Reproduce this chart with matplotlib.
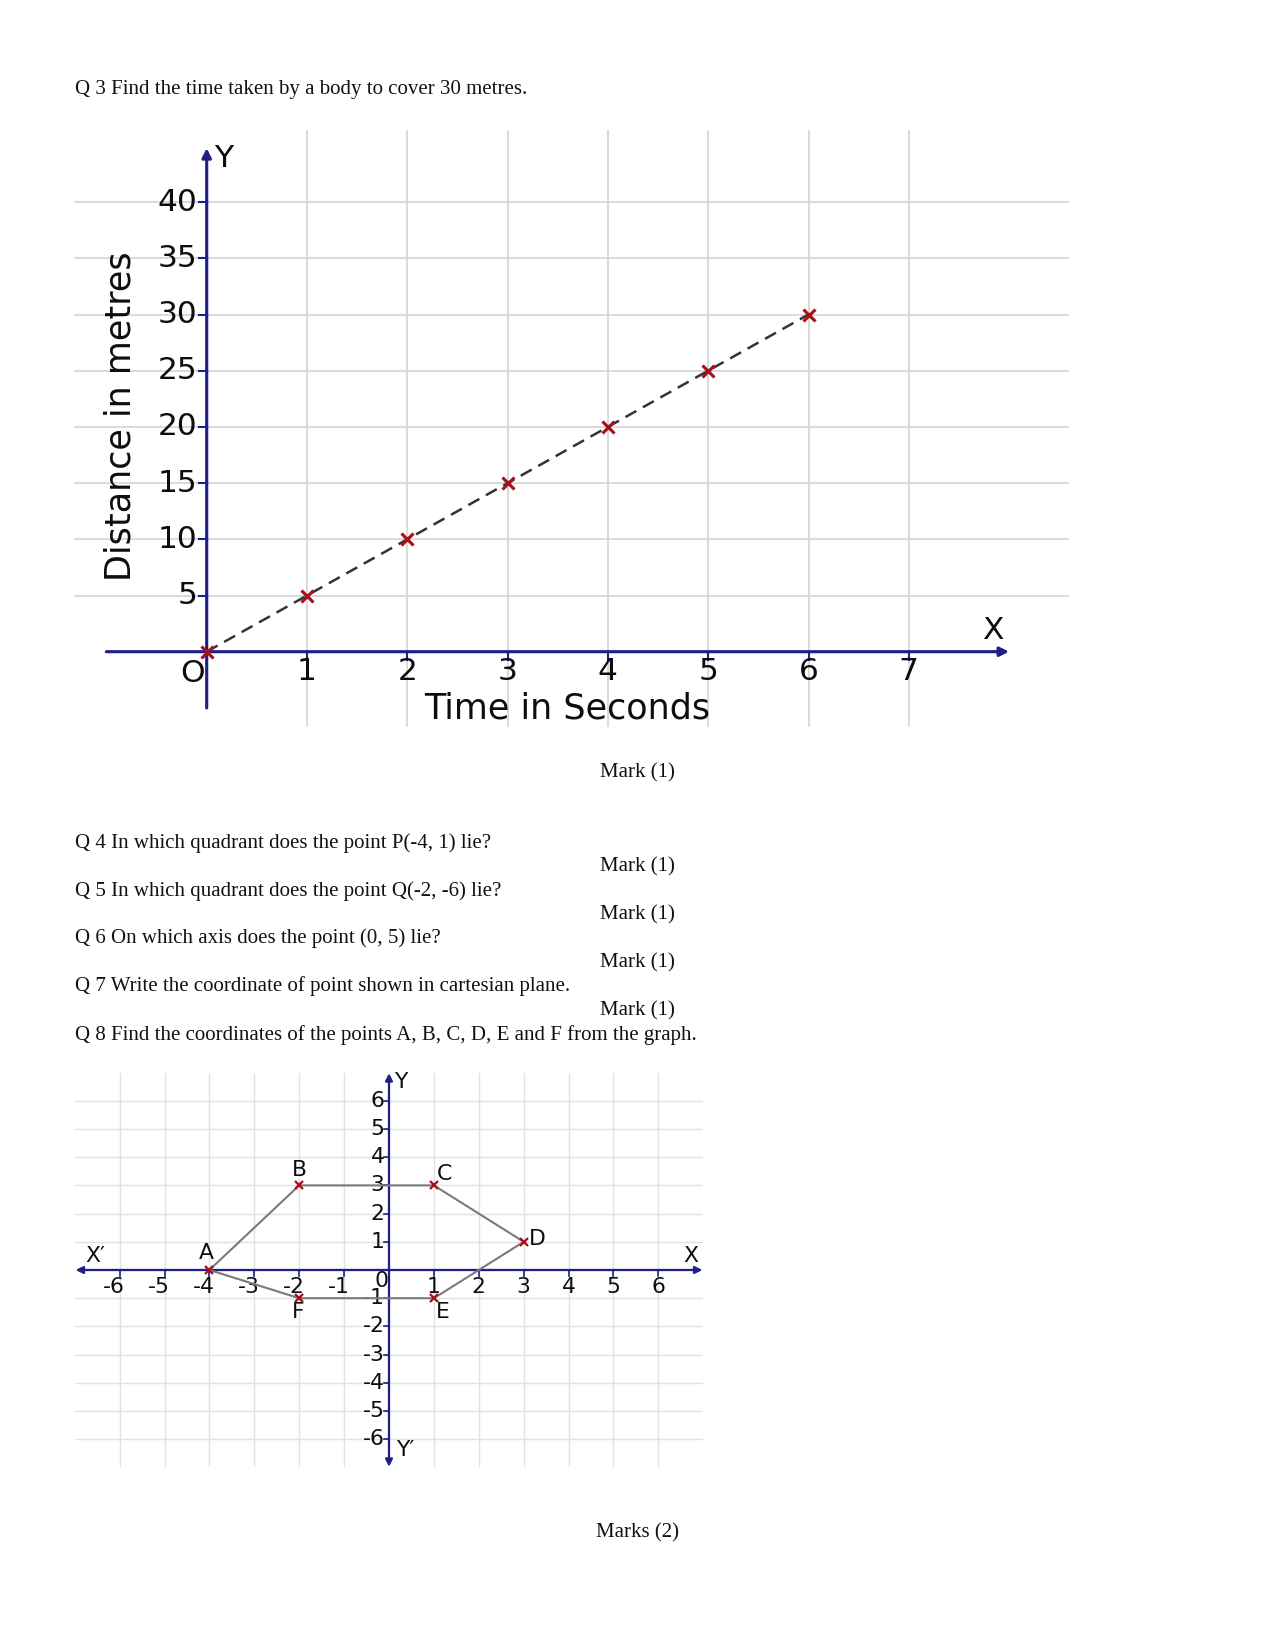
import matplotlib
matplotlib.use('Agg')
import matplotlib.pyplot as plt

W, H, DPI = 1275, 1651, 150

# ---------------- data ----------------
# Q3: distance-time graph
time_s = [0, 1, 2, 3, 4, 5, 6]
distance_m = [0, 5, 10, 15, 20, 25, 30]
q3_xticks = [1, 2, 3, 4, 5, 6, 7]
q3_yticks = [5, 10, 15, 20, 25, 30, 35, 40]

# Q8: hexagon on cartesian plane
pt_names = ['A', 'B', 'C', 'D', 'E', 'F']
pt_x = [-4, -2, 1, 3, 1, -2]
pt_y = [0, 3, 3, 1, -1, -1]
q8_ticks = [-6, -5, -4, -3, -2, -1, 1, 2, 3, 4, 5, 6]

q_texts = [
    "Q 3 Find the time taken by a body to cover 30 metres.",
    "Q 4 In which quadrant does the point P(-4, 1) lie?",
    "Q 5 In which quadrant does the point Q(-2, -6) lie?",
    "Q 6 On which axis does the point (0, 5) lie?",
    "Q 7 Write the coordinate of point shown in cartesian plane.",
    "Q 8 Find the coordinates of the points A, B, C, D, E and F from the graph.",
]
mark_texts = ["Mark (1)", "Mark (1)", "Mark (1)", "Mark (1)", "Mark (1)", "Marks (2)"]

# ---------------- layout (pixels) ----------------
q_baselines = [94, 848, 895.6, 943, 991.4, 1039.8]
mark_pos = [(600, 777), (600, 871), (600, 919.8), (600, 967), (600, 1015.6), (596, 1537)]

NAVY = '#1f1f85'
GRID1 = '#d4d4d4'
GRID2 = '#e2e2e2'
SANS = 'DejaVu Sans'
SERIF = 'Liberation Serif'
INK = '#0d0d0d'

fig = plt.figure(figsize=(W / DPI, H / DPI), dpi=DPI)
fig.patch.set_facecolor('white')


def fx(px):
    return px / W


def fy(py):
    return 1 - py / H


def add_axes_px(x0, x1, y0, y1, ox, oy, ux, uy):
    ax = fig.add_axes([x0 / W, 1 - y1 / H, (x1 - x0) / W, (y1 - y0) / H])
    ax.set_xlim((x0 - ox) / ux, (x1 - ox) / ux)
    ax.set_ylim((oy - y1) / uy, (oy - y0) / uy)
    ax.axis('off')
    return ax


# ---------------- text ----------------
for t, b in zip(q_texts, q_baselines):
    fig.text(fx(74.8), fy(b), t, family=SERIF, fontsize=10, va='baseline', ha='left', color='#111111')
for t, (x, b) in zip(mark_texts, mark_pos):
    fig.text(fx(x), fy(b), t, family=SERIF, fontsize=10, va='baseline', ha='left', color='#111111')

# ---------------- chart 1 ----------------
ax1 = add_axes_px(73.7, 1068.6, 129.5, 726.5, 206.7, 651.7, 100.3, 11.24)
for yv in q3_yticks:
    ax1.axhline(yv, color=GRID1, lw=0.8, zorder=1)
for xv in q3_xticks:
    ax1.axvline(xv, color=GRID1, lw=0.8, zorder=1)

# axes with arrows
ax1.annotate('', xy=(0, 44.8), xytext=(0, -5.0),
             arrowprops=dict(arrowstyle='-|>', color=NAVY, lw=1.5, mutation_scale=9,
                             shrinkA=0, shrinkB=0), zorder=3)
ax1.annotate('', xy=(8.0, 0), xytext=(-1.0, 0),
             arrowprops=dict(arrowstyle='-|>', color=NAVY, lw=1.5, mutation_scale=9,
                             shrinkA=0, shrinkB=0), zorder=3)
# ticks
for yv in q3_yticks:
    ax1.plot([-0.075, 0], [yv, yv], color=NAVY, lw=1.0, zorder=3)
    ax1.text(-0.095, yv, str(yv), family=SANS, fontsize=15, ha='right', va='center', color=INK)
for xv in q3_xticks:
    ax1.plot([xv, xv], [0, -0.7], color=NAVY, lw=1.0, zorder=3)
    ax1.text(xv, -1.8, str(xv), family=SANS, fontsize=15, ha='center', va='center', color=INK)
ax1.text(-0.14, -1.95, 'O', family=SANS, fontsize=15, ha='center', va='center', color=INK)
ax1.text(0.07, 43.9, 'Y', family=SANS, fontsize=15, ha='left', va='center', color=INK)
ax1.text(7.84, 1.9, 'X', family=SANS, fontsize=15, ha='center', va='center', color=INK)

ax1.plot(time_s, distance_m, color='#333333', lw=1.2, dashes=(5, 3), zorder=4)
ax1.plot(time_s, distance_m, ls='none', marker='x', ms=5.5, mew=1.5, color='#a8101a', zorder=5)

fig.text(fx(121), fy(416), 'Distance in metres', family=SANS, fontsize=16.8,
         rotation=90, ha='center', va='center', color=INK)
fig.text(fx(567.5), fy(708.6), 'Time in Seconds', family=SANS, fontsize=16.8,
         ha='center', va='center', color=INK)

# ---------------- chart 2 ----------------
ax2 = add_axes_px(74.7, 703.3, 1072.6, 1467.4, 389, 1270, 44.9, 28.2)
for v in q8_ticks:
    ax2.axhline(v, color=GRID2, lw=0.7, zorder=1)
    ax2.axvline(v, color=GRID2, lw=0.7, zorder=1)

ax2.annotate('', xy=(6.98, 0), xytext=(-6.98, 0),
             arrowprops=dict(arrowstyle='<|-|>', color=NAVY, lw=1.1, mutation_scale=7,
                             shrinkA=0, shrinkB=0), zorder=3)
ax2.annotate('', xy=(0, 6.98), xytext=(0, -6.98),
             arrowprops=dict(arrowstyle='<|-|>', color=NAVY, lw=1.1, mutation_scale=7,
                             shrinkA=0, shrinkB=0), zorder=3)
for v in q8_ticks:
    ax2.plot([v, v], [0, -0.2], color=NAVY, lw=0.8, zorder=3)
    ax2.plot([-0.12, 0], [v, v], color=NAVY, lw=0.8, zorder=3)
    dx = -0.12 if v < 0 else 0.0
    ax2.text(v + dx, -0.6, str(v), family=SANS, fontsize=10.5, ha='center', va='center', color=INK)
    ax2.text(-0.1, v, str(v), family=SANS, fontsize=10.5, ha='right', va='center', color=INK)
ax2.text(-0.16, -0.38, '0', family=SANS, fontsize=10.5, ha='center', va='center', color=INK)

ax2.text(-6.55, 0.5, "X\u2032", family=SANS, fontsize=10.5, ha='center', va='center', color=INK)
ax2.text(6.72, 0.5, 'X', family=SANS, fontsize=10.5, ha='center', va='center', color=INK)
ax2.text(0.27, 6.67, 'Y', family=SANS, fontsize=10.5, ha='center', va='center', color=INK)
ax2.text(0.36, -6.4, "Y\u2032", family=SANS, fontsize=10.5, ha='center', va='center', color=INK)

px = pt_x + [pt_x[0]]
py = pt_y + [pt_y[0]]
ax2.plot(px, py, color='#7a7a7a', lw=1.0, zorder=4)
ax2.plot(pt_x, pt_y, ls='none', marker='x', ms=4, mew=1.1, color='#a8101a', zorder=5)

label_off = [(-0.06, 0.6), (0.0, 0.55), (0.23, 0.4), (0.3, 0.1), (0.19, -0.5), (-0.02, -0.5)]
for n, x, y, (ox, oy) in zip(pt_names, pt_x, pt_y, label_off):
    ax2.text(x + ox, y + oy, n, family=SANS, fontsize=10.5, ha='center', va='center', color=INK)

fig.savefig('out.png', dpi=DPI, facecolor='white')
